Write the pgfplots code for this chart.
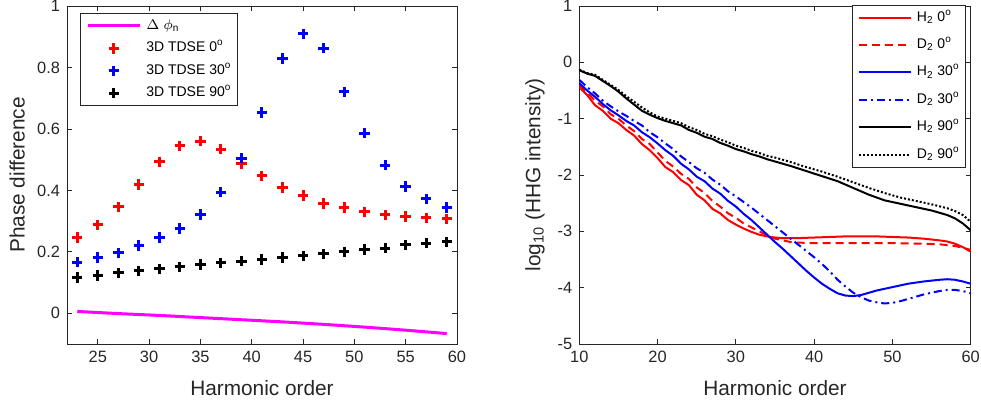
\documentclass[border=0pt]{standalone}
\usepackage{fontspec}
\setmainfont{Liberation Sans}
\usepackage{pgfplots}
\pgfplotsset{compat=1.18}

\definecolor{axgray}{rgb}{0.15,0.15,0.15}
\definecolor{mlmagenta}{rgb}{1,0,1}
\definecolor{mlred}{rgb}{1,0,0}
\definecolor{mlblue}{rgb}{0,0,1}

\pgfplotsset{
  matlab/.style={
    scale only axis,
    height=169pt,
    axis line style={axgray, line width=0.4pt},
    tick style={axgray, line width=0.4pt},
    major tick length=2.5pt,
    tick align=inside,
    ticklabel style={font=\fontsize{8.2}{9}\selectfont, text=axgray},
    label style={font=\fontsize{10.4}{12}\selectfont, text=axgray},
    /pgf/number format/assume math mode=true,
    legend image code/.code={\draw[mark repeat=2,mark phase=2,##1] plot coordinates {(0pt,0pt) (13pt,0pt) (26pt,0pt)};},
    legend cell align=left,
    legend style={draw=axgray, line width=0.4pt, fill=white,
      font=\fontsize{7}{8}\selectfont, inner xsep=3pt, inner ysep=3pt,
      column sep=2.5pt,
      nodes={inner sep=0pt, text height=5pt, text depth=1.5pt}},
    xlabel style={at={(axis description cs:0.5,-0.13)}, anchor=center},
  },
  tdse/.style={only marks, mark=+, mark size=2.6pt, line width=1.5pt},
}

\begin{document}
\begin{tikzpicture}
\path[use as bounding box] (0,0) rectangle (490.5pt,201.5pt);

% left panel: phase difference
\begin{axis}[
  matlab,
  at={(33.5pt,29.5pt)}, anchor=south west,
  width=195pt,
  xmin=22, xmax=60, ymin=-0.1, ymax=1,
  xtick={25,30,...,60},
  ytick={0,0.2,0.4,0.6,0.8,1},
  xlabel={Harmonic order},
  ylabel={Phase difference},
  ylabel style={at={(axis description cs:-0.128,0.5)}, anchor=center},
  legend style={at={(axis description cs:0.033,0.979)}, anchor=north west, row sep=4.7pt},
]
\addplot[mlmagenta, line width=1.5pt] coordinates {
  (23,0.006) (27,-0.001) (31,-0.007) (35,-0.014) (39,-0.021)
  (43,-0.028) (47,-0.036) (51,-0.045) (55,-0.055) (59,-0.066)
};
\addplot[tdse, mlred] coordinates {
  (23,0.246) (25,0.288) (27,0.346) (29,0.419) (31,0.493) (33,0.545)
  (35,0.560) (37,0.534) (39,0.488) (41,0.447) (43,0.409) (45,0.383)
  (47,0.357) (49,0.344) (51,0.330) (53,0.320) (55,0.315) (57,0.311) (59,0.307)
};
\addplot[tdse, mlblue] coordinates {
  (23,0.166) (25,0.181) (27,0.197) (29,0.220) (31,0.246) (33,0.276)
  (35,0.322) (37,0.394) (39,0.505) (41,0.654) (43,0.829) (45,0.909)
  (47,0.863) (49,0.721) (51,0.586) (53,0.482) (55,0.412) (57,0.372) (59,0.344)
};
\addplot[tdse, black] coordinates {
  (23,0.116) (25,0.123) (27,0.132) (29,0.138) (31,0.145) (33,0.151)
  (35,0.159) (37,0.164) (39,0.170) (41,0.175) (43,0.181) (45,0.187)
  (47,0.193) (49,0.200) (51,0.207) (53,0.212) (55,0.223) (57,0.228) (59,0.232)
};
\legend{$\Delta$ $\phi$\textsubscript{n}, 3D TDSE 0\textsuperscript{o},
  3D TDSE 30\textsuperscript{o}, 3D TDSE 90\textsuperscript{o}}
\end{axis}

% right panel: HHG spectra
\begin{axis}[
  matlab,
  at={(289.65pt,29.5pt)}, anchor=south west,
  width=195.7pt,
  xmin=10, xmax=60, ymin=-5, ymax=1,
  xtick={10,20,...,60},
  ytick={-5,-4,...,1},
  xlabel={Harmonic order},
  ylabel={log\textsubscript{10} (HHG intensity)},
  ylabel style={at={(axis description cs:-0.113,0.5)}, anchor=center},
  legend style={at={(axis description cs:0.988,1.004)}, anchor=north east, row sep=7.2pt},
]
% H2 0
\addplot[mlred, line width=1pt] coordinates {
  (10,-0.44) (11,-0.58) (12,-0.76) (13,-0.86) (14,-1.00) (15,-1.08)
  (16,-1.20) (17,-1.30) (18,-1.45) (19,-1.56) (20,-1.70) (21,-1.86)
  (22,-1.95) (23,-2.09) (24,-2.18) (25,-2.35) (26,-2.45) (27,-2.60)
  (28,-2.68) (29,-2.80) (30,-2.88) (31,-2.95) (32,-3.01) (33,-3.06)
  (34,-3.09) (35,-3.11) (36,-3.12) (38,-3.12) (40,-3.11) (42,-3.10)
  (44,-3.09) (46,-3.09) (48,-3.09) (50,-3.10) (52,-3.11) (54,-3.13)
  (56,-3.16) (57,-3.18) (58,-3.22) (59,-3.28) (60,-3.36)
};
% D2 0
\addplot[mlred, line width=1pt, dash pattern=on 4pt off 2.5pt] coordinates {
  (10,-0.40) (11,-0.53) (12,-0.68) (13,-0.78) (14,-0.92) (15,-1.00)
  (16,-1.12) (17,-1.22) (18,-1.36) (19,-1.45) (20,-1.60) (21,-1.75)
  (22,-1.85) (23,-1.98) (24,-2.07) (25,-2.22) (26,-2.32) (27,-2.46)
  (28,-2.56) (29,-2.68) (30,-2.76) (31,-2.86) (32,-2.93) (33,-3.00)
  (34,-3.07) (35,-3.13) (36,-3.16) (37,-3.19) (38,-3.20) (40,-3.21)
  (45,-3.21) (50,-3.21) (54,-3.22) (56,-3.23) (58,-3.26) (59,-3.29) (60,-3.33)
};
% H2 30
\addplot[mlblue, line width=1pt] coordinates {
  (10,-0.37) (11,-0.50) (12,-0.61) (13,-0.74) (14,-0.85) (15,-0.94)
  (16,-1.04) (17,-1.12) (18,-1.24) (19,-1.33) (20,-1.44) (21,-1.56)
  (22,-1.66) (23,-1.80) (24,-1.90) (25,-2.03) (26,-2.11) (27,-2.24)
  (28,-2.33) (29,-2.46) (30,-2.56) (31,-2.69) (32,-2.80) (33,-2.93)
  (34,-3.06) (35,-3.19) (36,-3.31) (37,-3.44) (38,-3.57) (39,-3.70)
  (40,-3.82) (41,-3.93) (42,-4.02) (43,-4.10) (44,-4.14) (45,-4.15)
  (46,-4.13) (47,-4.09) (48,-4.05) (50,-3.99) (52,-3.93) (54,-3.89)
  (56,-3.86) (57,-3.85) (58,-3.86) (59,-3.89) (60,-3.93)
};
% D2 30
\addplot[mlblue, line width=1pt, dash pattern=on 4pt off 2pt on 1pt off 2pt] coordinates {
  (10,-0.31) (11,-0.44) (12,-0.55) (13,-0.68) (14,-0.78) (15,-0.87)
  (16,-0.95) (17,-1.04) (18,-1.12) (19,-1.24) (20,-1.33) (21,-1.44)
  (22,-1.54) (23,-1.67) (24,-1.77) (25,-1.88) (26,-1.96) (27,-2.08)
  (28,-2.17) (29,-2.29) (30,-2.38) (31,-2.48) (32,-2.58) (33,-2.69)
  (34,-2.80) (35,-2.91) (36,-3.02) (37,-3.13) (38,-3.24) (39,-3.35)
  (40,-3.46) (41,-3.58) (42,-3.71) (43,-3.86) (44,-3.98) (45,-4.09)
  (46,-4.17) (47,-4.23) (48,-4.26) (49,-4.28) (50,-4.27) (51,-4.24)
  (52,-4.20) (54,-4.12) (56,-4.06) (57,-4.04) (58,-4.04) (59,-4.06) (60,-4.10)
};
% H2 90
\addplot[black, line width=1pt] coordinates {
  (10,-0.14) (11,-0.20) (12,-0.24) (13,-0.33) (14,-0.42) (15,-0.52)
  (16,-0.64) (17,-0.75) (18,-0.86) (19,-0.93) (20,-0.99) (21,-1.04)
  (22,-1.08) (23,-1.12) (24,-1.20) (25,-1.25) (26,-1.32) (27,-1.36)
  (28,-1.43) (29,-1.48) (30,-1.54) (31,-1.58) (32,-1.63) (33,-1.67)
  (34,-1.72) (35,-1.76) (37,-1.84) (39,-1.93) (41,-2.02) (43,-2.11)
  (45,-2.23) (47,-2.35) (49,-2.45) (51,-2.51) (53,-2.57) (55,-2.63)
  (57,-2.71) (58,-2.77) (59,-2.86) (60,-2.98)
};
% D2 90
\addplot[black, line width=1pt, dash pattern=on 1pt off 1pt] coordinates {
  (10,-0.13) (11,-0.19) (12,-0.22) (13,-0.31) (14,-0.40) (15,-0.49)
  (16,-0.60) (17,-0.70) (18,-0.80) (19,-0.89) (20,-0.96) (21,-1.00)
  (22,-1.04) (23,-1.08) (24,-1.15) (25,-1.20) (26,-1.27) (27,-1.31)
  (28,-1.37) (29,-1.42) (30,-1.48) (31,-1.52) (32,-1.57) (33,-1.61)
  (34,-1.66) (35,-1.69) (37,-1.77) (39,-1.86) (41,-1.94) (43,-2.03)
  (45,-2.13) (47,-2.23) (49,-2.32) (51,-2.40) (53,-2.46) (55,-2.52)
  (57,-2.59) (58,-2.64) (59,-2.71) (60,-2.83)
};
\legend{H\textsubscript{2} 0\textsuperscript{o}, D\textsubscript{2} 0\textsuperscript{o},
  H\textsubscript{2} 30\textsuperscript{o}, D\textsubscript{2} 30\textsuperscript{o},
  H\textsubscript{2} 90\textsuperscript{o}, D\textsubscript{2} 90\textsuperscript{o}}
\end{axis}
\end{tikzpicture}
\end{document}
